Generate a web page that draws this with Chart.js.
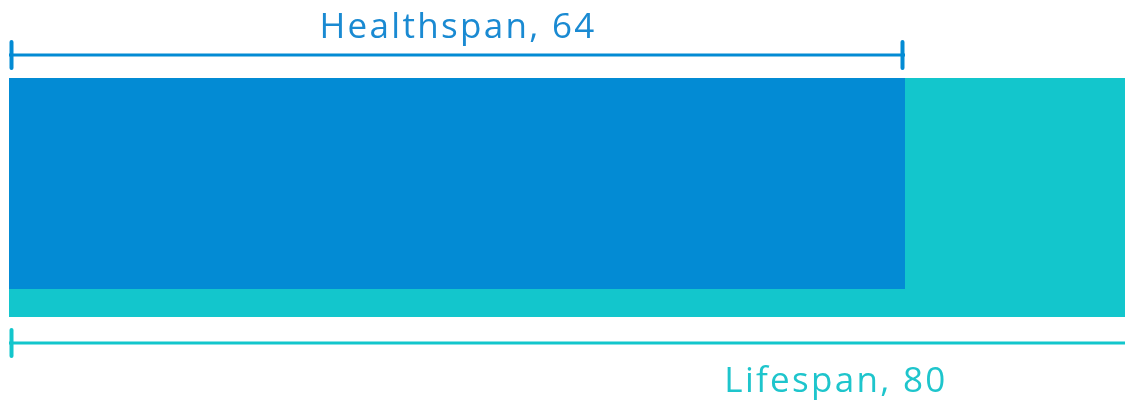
<!DOCTYPE html>
<html>
<head>
<meta charset="utf-8">
<script src="https://cdn.jsdelivr.net/npm/chart.js@4"></script>
<style>
  html, body { margin: 0; padding: 0; background: #fff; overflow: hidden; }
  #wrap { width: 1130px; height: 400px; }
</style>
</head>
<body>
<div id="wrap"><canvas id="spanChart"></canvas></div>
<script>
// --- data ---
const spanNames = ["Healthspan", "Lifespan"];
const spanYears = [64, 80];
const spanColors = ["#038bd4", "#13c6cc"];
const labelColors = ["#1a8ad2", "#1ec5cc"];

const FONT = "'Open Sans', 'Noto Sans', sans-serif";

// draws the brackets + labels above / below the bars
const bracketPlugin = {
  id: "brackets",
  afterDatasetsDraw(chart) {
    const ctx = chart.ctx;
    const xs = chart.scales.x;
    const bar = chart.getDatasetMeta(1).data[0];
    const top = bar.y - bar.height / 2;
    const bottom = bar.y + bar.height / 2;

    const drawBracket = (x0, x1, y, color, closeRight) => {
      ctx.save();
      ctx.strokeStyle = color;
      ctx.lineCap = "butt";
      ctx.lineWidth = 3;
      ctx.beginPath();
      ctx.moveTo(x0, y);
      ctx.lineTo(x1, y);
      ctx.stroke();
      ctx.lineWidth = 4;
      ctx.lineCap = "round";
      ctx.beginPath();
      ctx.moveTo(x0 + 2.5, y - 13);
      ctx.lineTo(x0 + 2.5, y + 13);
      if (closeRight) {
        ctx.moveTo(x1 - 2.5, y - 13);
        ctx.lineTo(x1 - 2.5, y + 13);
      }
      ctx.stroke();
      ctx.restore();
    };

    const drawLabel = (text, x, y, color) => {
      ctx.save();
      ctx.fillStyle = color;
      ctx.font = "400 35px " + FONT;
      ctx.letterSpacing = "2.3px";
      ctx.textAlign = "center";
      ctx.textBaseline = "alphabetic";
      ctx.fillText(text, x + 1, y);
      ctx.restore();
    };

    // Healthspan
    const h0 = xs.getPixelForValue(0);
    const h1 = xs.getPixelForValue(spanYears[0]);
    drawBracket(h0, h1, top - 23, spanColors[0], true);
    drawLabel(spanNames[0] + ", " + spanYears[0], (h0 + h1) / 2, top - 40, labelColors[0]);

    // Lifespan
    const l1 = xs.getPixelForValue(spanYears[1]);
    drawBracket(h0, l1, bottom + 26, spanColors[1], false);
    drawLabel(spanNames[1] + ", " + spanYears[1], xs.getPixelForValue(59), bottom + 75, labelColors[1]);
  }
};

new Chart(document.getElementById("spanChart"), {
  type: "bar",
  data: {
    labels: ["years"],
    datasets: [
      {
        label: spanNames[0],
        data: [spanYears[0]],
        backgroundColor: spanColors[0],
        borderColor: spanColors[1],
        borderWidth: { top: 0, left: 0, right: 0, bottom: 28 },
        borderSkipped: false,
        inflateAmount: 0,
        barThickness: 239,
        order: 0
      },
      {
        label: spanNames[1],
        data: [spanYears[1]],
        backgroundColor: spanColors[1],
        borderWidth: 0,
        inflateAmount: 0,
        barThickness: 239,
        order: 1
      }
    ]
  },
  options: {
    indexAxis: "y",
    responsive: true,
    maintainAspectRatio: false,
    animation: false,
    datasets: { bar: { grouped: false } },
    layout: { padding: { left: 9, right: 1, top: 0, bottom: 5 } },
    plugins: {
      legend: { display: false },
      tooltip: { enabled: false }
    },
    scales: {
      x: { display: false, min: 0, max: 80 },
      y: { display: false }
    }
  },
  plugins: [bracketPlugin]
});
</script>
</body>
</html>
